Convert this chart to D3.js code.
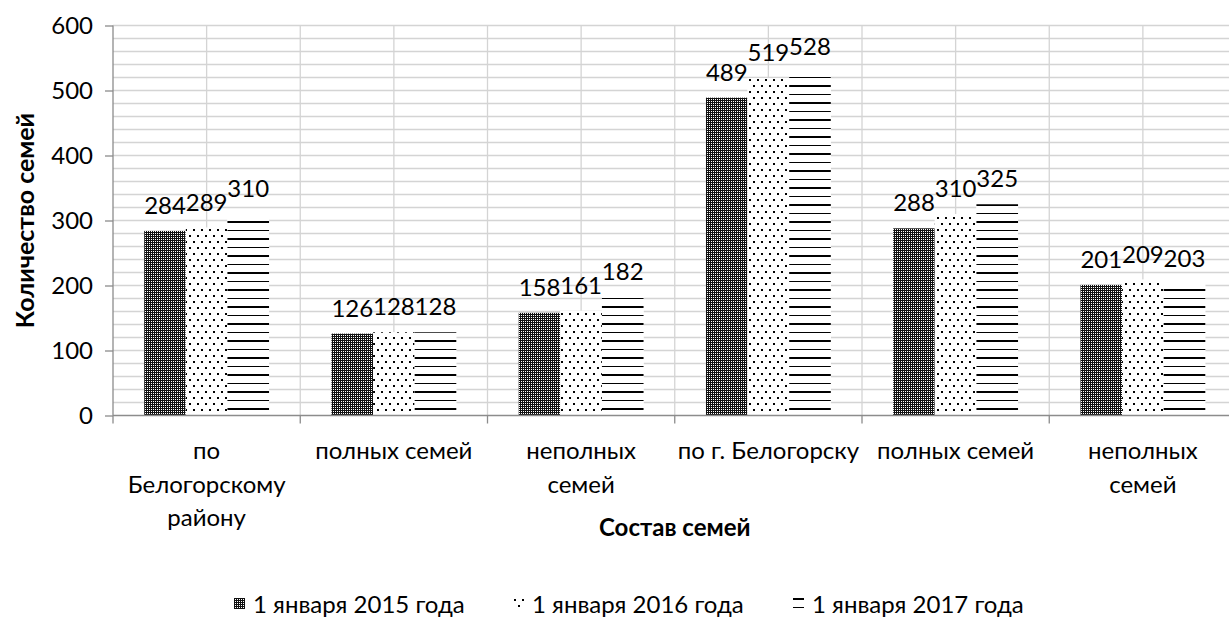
<!DOCTYPE html>
<html>
<head>
<meta charset="utf-8">
<script src="https://cdn.jsdelivr.net/npm/d3@7"></script>
<style>
  html, body { margin: 0; padding: 0; background: #fff; }
  svg { display: block; }
  text { font-family: Lato, "Open Sans", sans-serif; fill: #000; }
</style>
</head>
<body>
<svg id="chart" width="1229" height="642"></svg>
<script>
// ---- data ----
const categories = ["по\nБелогорскому\nрайону", "полных семей", "неполных\nсемей", "по г. Белогорску", "полных семей", "неполных\nсемей"];
const seriesNames = ["1 января 2015 года", "1 января 2016 года", "1 января 2017 года"];
const values2015 = [284, 126, 158, 489, 288, 201];
const values2016 = [289, 128, 161, 519, 310, 209];
const values2017 = [310, 128, 182, 528, 325, 203];
const yTicks = [0, 100, 200, 300, 400, 500, 600];
const yTitle = "Количество семей";
const xTitle = "Состав семей";

const seriesValues = [values2015, values2016, values2017];
const patternIds = ["pat-check", "pat-dots", "pat-stripes"];

const W = 1229, H = 642;
const pLeft = 113, pRight = 1236.5, pTop = 25.5, pBottom = 415.5;
const FS = 24;
const svg = d3.select("#chart");
svg.append("rect").attr("width", W).attr("height", H).attr("fill", "#fff");

const defs = svg.append("defs");
function makePatterns(suffix, ox, oy) {
  const p1 = defs.append("pattern").attr("id", "pat-check" + suffix)
    .attr("patternUnits", "userSpaceOnUse").attr("width", 2).attr("height", 2)
    .attr("x", ox).attr("y", oy);
  p1.append("rect").attr("width", 2).attr("height", 2).attr("fill", "#111");
  p1.append("rect").attr("x", 1).attr("y", 1).attr("width", 1).attr("height", 1).attr("fill", "#fff");

  const p2 = defs.append("pattern").attr("id", "pat-dots" + suffix)
    .attr("patternUnits", "userSpaceOnUse").attr("width", 8).attr("height", 12)
    .attr("x", ox).attr("y", oy);
  p2.append("rect").attr("width", 8).attr("height", 12).attr("fill", "#fff");
  p2.append("rect").attr("x", 1).attr("y", 1).attr("width", 2).attr("height", 2).attr("fill", "#000");
  p2.append("rect").attr("x", 5).attr("y", 7).attr("width", 2).attr("height", 2).attr("fill", "#000");

  const p3 = defs.append("pattern").attr("id", "pat-stripes" + suffix)
    .attr("patternUnits", "userSpaceOnUse").attr("width", 4).attr("height", 17)
    .attr("x", ox).attr("y", oy);
  p3.append("rect").attr("width", 4).attr("height", 17).attr("fill", "#fff");
  p3.append("rect").attr("x", 0).attr("y", 0).attr("width", 4).attr("height", 2).attr("fill", "#000");
  p3.append("rect").attr("x", 0).attr("y", 9).attr("width", 4).attr("height", 1).attr("fill", "#000");
}
makePatterns("", 0, 0);

// ---- scales ----
const x = d3.scaleBand().domain(d3.range(categories.length)).range([pLeft, pRight]).paddingInner(0).paddingOuter(0);
const bw = x.bandwidth();
const barW = bw / 4.5;
const x1 = d3.scaleBand().domain(d3.range(seriesNames.length))
  .range([barW * 0.75, bw - barW * 0.75]).paddingInner(0).paddingOuter(0);
const y = d3.scaleLinear().domain([0, 600]).range([pBottom, pTop]);

// ---- gridlines ----
const grid = svg.append("g");
const gridColor = "#d4d4d4";
d3.range(20, 601, 20).forEach(v => {
  grid.append("line").attr("x1", pLeft).attr("x2", W).attr("y1", y(v)).attr("y2", y(v))
    .attr("stroke", gridColor).attr("stroke-width", 1.3);
});
const vLines = [];
categories.forEach((c, i) => { if (i > 0) vLines.push(x(i)); vLines.push(x(i) + bw / 2); });
vLines.forEach(vx => {
  grid.append("line").attr("x1", vx).attr("x2", vx).attr("y1", pTop).attr("y2", pBottom)
    .attr("stroke", gridColor).attr("stroke-width", 1.3);
});

// ---- bars ----
const barLayer = svg.append("g");
categories.forEach((c, i) => {
  seriesValues.forEach((vals, s) => {
    const bx = x(i) + x1(s);
    barLayer.append("rect").attr("x", bx).attr("width", x1.bandwidth())
      .attr("y", y(vals[i])).attr("height", y(0) - y(vals[i]))
      .attr("fill", "#fff");
    barLayer.append("rect").attr("x", bx).attr("width", x1.bandwidth())
      .attr("y", y(vals[i])).attr("height", y(0) - y(vals[i]))
      .attr("fill", `url(#${patternIds[s]})`);
  });
});

// ---- axes ----
const axisColor = "#8c8c8c";
const yAxis = svg.append("g").attr("transform", `translate(${pLeft},0)`)
  .call(d3.axisLeft(y).tickValues(yTicks).tickSize(8).tickPadding(12).tickFormat(d3.format("d")));
yAxis.select(".domain").attr("stroke", axisColor).attr("stroke-width", 1.3).attr("d", `M0,${pTop}V${pBottom}`);
yAxis.selectAll(".tick line").attr("stroke", axisColor).attr("stroke-width", 1.3);
yAxis.selectAll(".tick text").attr("font-size", FS).attr("font-family", "Lato, 'Open Sans', sans-serif").attr("fill", "#000");

svg.append("line").attr("x1", pLeft).attr("x2", W).attr("y1", pBottom).attr("y2", pBottom)
  .attr("stroke", axisColor).attr("stroke-width", 1.3);
d3.range(categories.length).forEach(i => {
  svg.append("line").attr("x1", x(i)).attr("x2", x(i)).attr("y1", pBottom).attr("y2", pBottom + 8)
    .attr("stroke", axisColor).attr("stroke-width", 1.3);
});

// ---- data labels ----
const lblLayer = svg.append("g");
categories.forEach((c, i) => {
  seriesValues.forEach((vals, s) => {
    lblLayer.append("text").attr("x", x(i) + x1(s) + x1.bandwidth() / 2).attr("y", y(vals[i]) - 17)
      .attr("text-anchor", "middle").attr("font-size", FS).text(vals[i]);
  });
});

// ---- category labels ----
categories.forEach((c, i) => {
  const t = svg.append("text").attr("text-anchor", "middle").attr("font-size", FS)
    .attr("transform", `translate(${x(i) + bw / 2},459)`);
  c.split("\n").forEach((line, k) => {
    t.append("tspan").attr("x", 0).attr("y", k * 33.5).text(line);
  });
});

// ---- axis titles ----
svg.append("text").attr("text-anchor", "middle").attr("font-size", 25).attr("font-weight", "bold")
  .attr("transform", `translate(34,${(pTop + pBottom) / 2}) rotate(-90)`).text(yTitle);
svg.append("text").attr("text-anchor", "middle").attr("font-size", 24).attr("font-weight", "bold")
  .attr("x", (pLeft + pRight) / 2).attr("y", 536).text(xTitle);

// ---- legend ----
const legendY = 613;
const iconSize = 11, iconGap = 8;
const textStarts = [253, 532, 812];
const lg = svg.append("g");
seriesNames.forEach((n, s) => {
  const tx = textStarts[s];
  const ix = tx - iconGap - iconSize;
  const iy = legendY - 15;
  makePatterns("-lg" + s, ix, iy);
  lg.append("rect").attr("x", ix).attr("y", iy).attr("width", iconSize).attr("height", iconSize)
    .attr("fill", `url(#${patternIds[s]}-lg${s})`);
  lg.append("text").attr("font-size", FS).attr("x", tx).attr("y", legendY).text(n);
});
</script>
</body>
</html>
